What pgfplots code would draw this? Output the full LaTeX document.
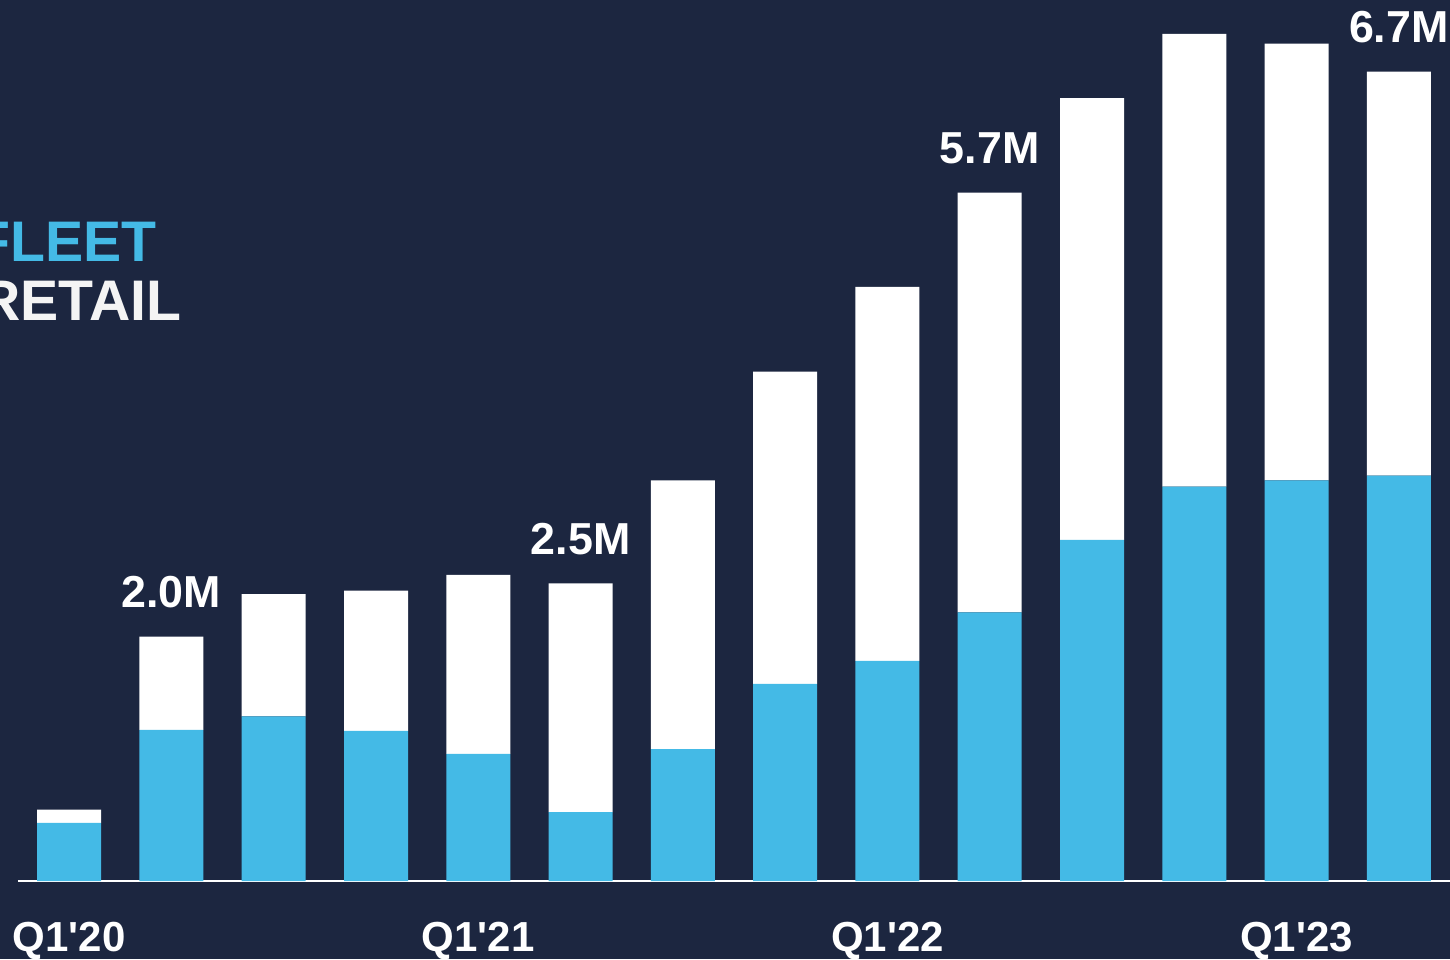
\documentclass[border=0pt]{standalone}
\usepackage{pgfplots}
\pgfplotsset{compat=1.18}
\usepackage{fontspec}
\setmainfont{Liberation Sans}
\definecolor{navy}{HTML}{1C2640}
\definecolor{fleetblue}{HTML}{44BAE6}
\definecolor{offwhite}{HTML}{F4F4F4}
\begin{document}
\begin{tikzpicture}
\path[use as bounding box] (-9pt,-39pt) rectangle (716pt,440.5pt);
\clip (-9pt,-39pt) rectangle (716pt,440.5pt);
\fill[navy] (-9pt,-39pt) rectangle (716pt,440.5pt);
\begin{axis}[
  at={(0,0)}, anchor=south west,
  scale only axis,
  width=716pt, height=440.5pt,
  xmin=-0.5, xmax=13.5,
  ymin=0, ymax=7.281,
  ybar stacked,
  bar width=32pt,
  axis x line=bottom,
  axis y line=none,
  x axis line style={-, white, line width=1pt},
  xtick={0,4,8,12},
  xticklabels={Q1\textquotesingle 20,Q1\textquotesingle 21,Q1\textquotesingle 22,Q1\textquotesingle 23},
  major tick length=0pt,
  xticklabel style={white, font=\fontsize{21}{21}\selectfont\bfseries, anchor=base, yshift=-35pt},
  ytick=\empty,
  clip=false,
]
\addplot+[fill=fleetblue, draw=none] coordinates {
(0,0.48) (1,1.25) (2,1.36) (3,1.24) (4,1.05) (5,0.57) (6,1.09)
(7,1.63) (8,1.82) (9,2.22) (10,2.82) (11,3.26) (12,3.31) (13,3.35)};
\addplot+[fill=white, draw=none] coordinates {
(0,0.11) (1,0.77) (2,1.01) (3,1.16) (4,1.48) (5,1.89) (6,2.22)
(7,2.58) (8,3.09) (9,3.47) (10,3.65) (11,3.74) (12,3.61) (13,3.34)};
\node[anchor=base, white, font=\fontsize{22.4}{22.4}\selectfont\bfseries, yshift=14.5pt] at (axis cs:1,2.02) {2.0M};
\node[anchor=base, white, font=\fontsize{22.4}{22.4}\selectfont\bfseries, yshift=14.5pt] at (axis cs:5,2.46) {2.5M};
\node[anchor=base, white, font=\fontsize{22.4}{22.4}\selectfont\bfseries, yshift=14.5pt] at (axis cs:9,5.69) {5.7M};
\node[anchor=base, white, font=\fontsize{22.4}{22.4}\selectfont\bfseries, yshift=14.5pt] at (axis cs:13,6.69) {6.7M};
\node[anchor=base east, inner sep=0pt, fleetblue, font=\fontsize{28.6}{28.6}\selectfont\bfseries] at (axis cs:0.86,5.116) {FLEET};
\node[anchor=base east, inner sep=0pt, offwhite, font=\fontsize{28.6}{28.6}\selectfont\bfseries] at (axis cs:1.105,4.636) {RETAIL};
\end{axis}
\end{tikzpicture}
\end{document}
